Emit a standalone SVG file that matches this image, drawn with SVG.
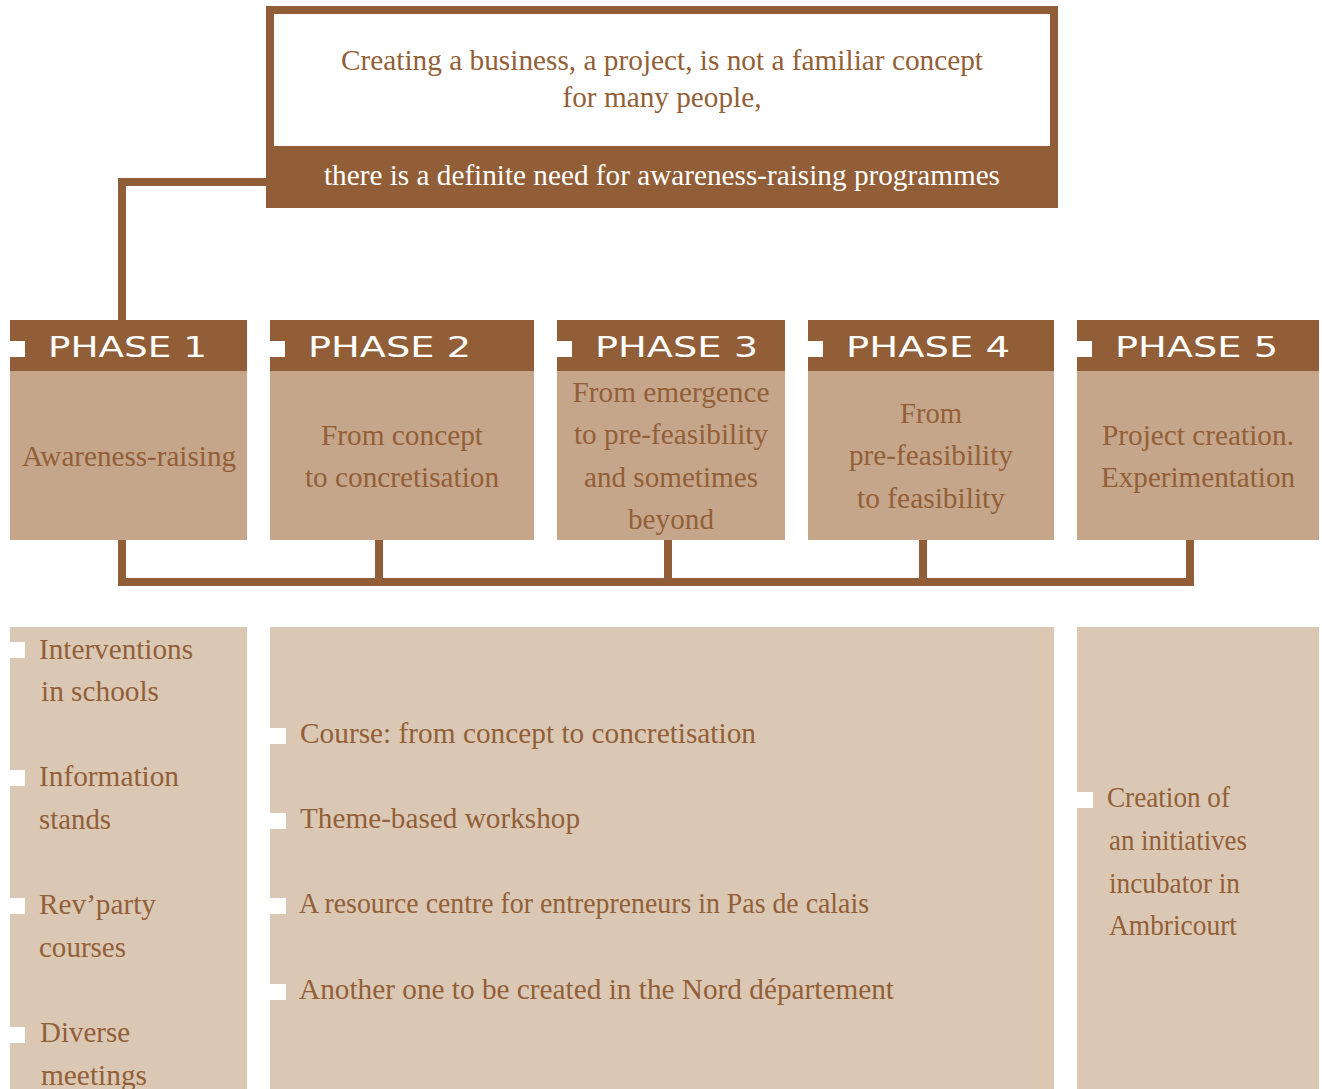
<svg xmlns="http://www.w3.org/2000/svg" width="1322" height="1089" viewBox="0 0 1322 1089">
<style>
.hdr{fill:#915e38}
.body{fill:#c5a68a}
.panel{fill:#dac8b5}
.notch{fill:#ffffff}
.ph{font-family:"DejaVu Sans",sans-serif;font-size:28px;fill:#ffffff}
.t{font-family:"Liberation Serif",serif;font-size:29px;fill:#925f38}
.tw{font-family:"Liberation Serif",serif;font-size:29px;fill:#ffffff}
.l{font-family:"Liberation Serif",serif;font-size:29px;fill:#925f38}
.conn{fill:none;stroke:#915e38;stroke-width:8}
</style>
<rect width="1322" height="1089" fill="#ffffff"/>
<g id="connectors">
<polyline class="conn" points="270,182 122,182 122,322"/>
<polyline class="conn" points="122,538 122,582 1190,582 1190,538"/>
<line class="conn" x1="379" y1="538" x2="379" y2="582"/>
<line class="conn" x1="668" y1="538" x2="668" y2="582"/>
<line class="conn" x1="923" y1="538" x2="923" y2="582"/>
</g>
<g id="top">
<rect class="hdr" x="266" y="6" width="792" height="202"/>
<rect x="274" y="14" width="776" height="132" fill="#ffffff"/>
<text class="t" x="662" y="70" text-anchor="middle" textLength="642" lengthAdjust="spacingAndGlyphs">Creating a business, a project, is not a familiar concept</text>
<text class="t" x="662" y="107" text-anchor="middle" textLength="199" lengthAdjust="spacingAndGlyphs">for many people,</text>
<text class="tw" x="662" y="185" text-anchor="middle" textLength="676" lengthAdjust="spacingAndGlyphs">there is a definite need for awareness-raising programmes</text>
</g>
<g id="phase1">
<rect class="hdr" x="10" y="320" width="237" height="51"/>
<rect class="body" x="10" y="371" width="237" height="169"/>
<rect class="notch" x="10" y="341" width="15" height="16"/>
<text class="ph" x="48" y="357" textLength="159" lengthAdjust="spacingAndGlyphs">PHASE 1</text>
<text class="t" x="129" y="466" text-anchor="middle" textLength="214" lengthAdjust="spacingAndGlyphs">Awareness-raising</text>
</g>
<g id="phase2">
<rect class="hdr" x="270" y="320" width="264" height="51"/>
<rect class="body" x="270" y="371" width="264" height="169"/>
<rect class="notch" x="270" y="341" width="15" height="16"/>
<text class="ph" x="308" y="357" textLength="163" lengthAdjust="spacingAndGlyphs">PHASE 2</text>
<text class="t" x="402" y="445" text-anchor="middle" textLength="162" lengthAdjust="spacingAndGlyphs">From concept</text>
<text class="t" x="402" y="487" text-anchor="middle" textLength="194" lengthAdjust="spacingAndGlyphs">to concretisation</text>
</g>
<g id="phase3">
<rect class="hdr" x="557" y="320" width="228" height="51"/>
<rect class="body" x="557" y="371" width="228" height="169"/>
<rect class="notch" x="557" y="341" width="15" height="16"/>
<text class="ph" x="595" y="357" textLength="163" lengthAdjust="spacingAndGlyphs">PHASE 3</text>
<text class="t" x="671" y="402" text-anchor="middle" textLength="197" lengthAdjust="spacingAndGlyphs">From emergence</text>
<text class="t" x="671" y="444" text-anchor="middle" textLength="194" lengthAdjust="spacingAndGlyphs">to pre-feasibility</text>
<text class="t" x="671" y="487" text-anchor="middle" textLength="174" lengthAdjust="spacingAndGlyphs">and sometimes</text>
<text class="t" x="671" y="529" text-anchor="middle" textLength="86" lengthAdjust="spacingAndGlyphs">beyond</text>
</g>
<g id="phase4">
<rect class="hdr" x="808" y="320" width="246" height="51"/>
<rect class="body" x="808" y="371" width="246" height="169"/>
<rect class="notch" x="808" y="341" width="15" height="16"/>
<text class="ph" x="846" y="357" textLength="164" lengthAdjust="spacingAndGlyphs">PHASE 4</text>
<text class="t" x="931" y="423" text-anchor="middle" textLength="62" lengthAdjust="spacingAndGlyphs">From</text>
<text class="t" x="931" y="465" text-anchor="middle" textLength="164" lengthAdjust="spacingAndGlyphs">pre-feasibility</text>
<text class="t" x="931" y="508" text-anchor="middle" textLength="148" lengthAdjust="spacingAndGlyphs">to feasibility</text>
</g>
<g id="phase5">
<rect class="hdr" x="1077" y="320" width="242" height="51"/>
<rect class="body" x="1077" y="371" width="242" height="169"/>
<rect class="notch" x="1077" y="341" width="15" height="16"/>
<text class="ph" x="1115" y="357" textLength="163" lengthAdjust="spacingAndGlyphs">PHASE 5</text>
<text class="t" x="1198" y="445" text-anchor="middle" textLength="192" lengthAdjust="spacingAndGlyphs">Project creation.</text>
<text class="t" x="1198" y="487" text-anchor="middle" textLength="194" lengthAdjust="spacingAndGlyphs">Experimentation</text>
</g>
<g id="panel1">
<rect class="panel" x="10" y="627" width="237" height="462"/>
<rect class="notch" x="10" y="642" width="15" height="16"/>
<rect class="notch" x="10" y="770" width="15" height="16"/>
<rect class="notch" x="10" y="898" width="15" height="16"/>
<rect class="notch" x="10" y="1027" width="15" height="16"/>
<text class="l" x="39" y="659" textLength="154" lengthAdjust="spacingAndGlyphs">Interventions</text>
<text class="l" x="41" y="701" textLength="118" lengthAdjust="spacingAndGlyphs">in schools</text>
<text class="l" x="39" y="786" textLength="140" lengthAdjust="spacingAndGlyphs">Information</text>
<text class="l" x="39" y="829" textLength="72" lengthAdjust="spacingAndGlyphs">stands</text>
<text class="l" x="39" y="914" textLength="117" lengthAdjust="spacingAndGlyphs">Rev’party</text>
<text class="l" x="39" y="957" textLength="87" lengthAdjust="spacingAndGlyphs">courses</text>
<text class="l" x="40" y="1042" textLength="90" lengthAdjust="spacingAndGlyphs">Diverse</text>
<text class="l" x="41" y="1085" textLength="106" lengthAdjust="spacingAndGlyphs">meetings</text>
</g>
<g id="panel2">
<rect class="panel" x="270" y="627" width="784" height="462"/>
<rect class="notch" x="270" y="728" width="16" height="16"/>
<rect class="notch" x="270" y="813" width="16" height="16"/>
<rect class="notch" x="270" y="898" width="16" height="16"/>
<rect class="notch" x="270" y="984" width="16" height="16"/>
<text class="t" x="300" y="743" textLength="456" lengthAdjust="spacingAndGlyphs">Course: from concept to concretisation</text>
<text class="t" x="300" y="828" textLength="280" lengthAdjust="spacingAndGlyphs">Theme-based workshop</text>
<text class="t" x="299" y="913" textLength="570" lengthAdjust="spacingAndGlyphs">A resource centre for entrepreneurs in Pas de calais</text>
<text class="t" x="299" y="999" textLength="595" lengthAdjust="spacingAndGlyphs">Another one to be created in the Nord département</text>
</g>
<g id="panel3">
<rect class="panel" x="1077" y="627" width="242" height="462"/>
<rect class="notch" x="1077" y="792" width="16" height="16"/>
<text class="l" x="1107" y="807" textLength="123" lengthAdjust="spacingAndGlyphs">Creation of</text>
<text class="l" x="1109" y="850" textLength="138" lengthAdjust="spacingAndGlyphs">an initiatives</text>
<text class="l" x="1109" y="893" textLength="131" lengthAdjust="spacingAndGlyphs">incubator in</text>
<text class="l" x="1109" y="935" textLength="128" lengthAdjust="spacingAndGlyphs">Ambricourt</text>
</g>
</svg>
